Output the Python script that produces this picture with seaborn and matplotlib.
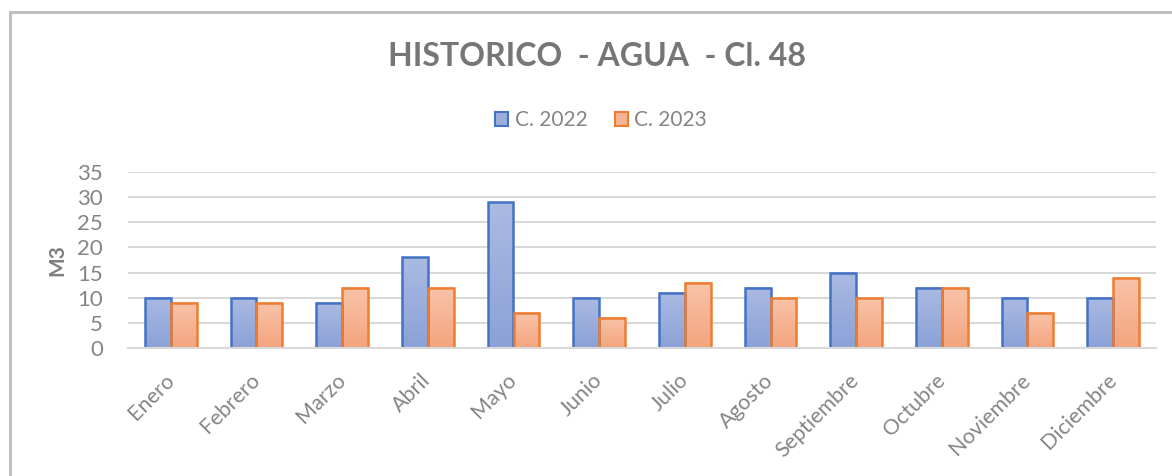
import numpy as np
import pandas as pd
import matplotlib
matplotlib.use("Agg")
import matplotlib.pyplot as plt
import seaborn as sns
from matplotlib.colors import LinearSegmentedColormap
from matplotlib.patches import Rectangle, Patch

months = ["Enero", "Febrero", "Marzo", "Abril", "Mayo", "Junio", "Julio",
          "Agosto", "Septiembre", "Octubre", "Noviembre", "Diciembre"]
series_names = ["C. 2022", "C. 2023"]
values_2022 = [10, 10, 9, 18, 29, 10, 11, 12, 15, 12, 10, 10]
values_2023 = [9, 9, 12, 12, 7, 6, 13, 10, 10, 12, 7, 14]
y_ticks = [0, 5, 10, 15, 20, 25, 30, 35]
title = "HISTORICO  - AGUA  - Cl. 48"
y_label = "M3"

df = pd.DataFrame({
    "Mes": months * 2,
    "M3": values_2022 + values_2023,
    "Serie": [series_names[0]] * 12 + [series_names[1]] * 12,
})

sns.set_style("white")
plt.rcParams["font.family"] = ["Lato", "DejaVu Sans"]

edge_colors = {"C. 2022": "#4472c4", "C. 2023": "#ed7d31"}
grad_colors = {"C. 2022": ("#8ba1d7", "#aabae2"),   # bottom, top
               "C. 2023": ("#f4a47e", "#f8c4a9")}
mid_colors = {"C. 2022": "#9aaedc", "C. 2023": "#f6b493"}

W, H = 1172, 476
fig = plt.figure(figsize=(W / 100, H / 100), dpi=100)
ax = fig.add_axes([128 / W, 1 - 348 / H, (1156 - 128) / W, (348 - 172) / H])

sns.barplot(data=df, x="Mes", y="M3", hue="Serie", order=months,
            hue_order=series_names, palette=mid_colors, width=0.6,
            gap=0, ax=ax, legend=False, errorbar=None)

grad = np.linspace(0, 1, 256).reshape(-1, 1)
for container, name in zip(ax.containers, series_names):
    cmap = LinearSegmentedColormap.from_list(name, list(grad_colors[name]))
    for bar in container:
        x0, y0 = bar.get_x(), bar.get_y()
        w, h = bar.get_width(), bar.get_height()
        ax.imshow(grad, extent=[x0, x0 + w, y0, y0 + h], origin="lower",
                  cmap=cmap, aspect="auto", zorder=1.5, interpolation="bilinear")
        bar.set_facecolor("none")
        bar.set_edgecolor(edge_colors[name])
        bar.set_linewidth(1.8)
        bar.set_zorder(2)

ax.set_xlim(-0.5, len(months) - 0.5)
ax.set_ylim(0, 35)
ax.set_yticks(y_ticks)
ax.set_axisbelow(True)
ax.grid(axis="y", color="#d9d9d9", linewidth=1.5)
ax.grid(axis="x", visible=False)
for s in ["top", "right", "left"]:
    ax.spines[s].set_visible(False)
ax.spines["bottom"].set_color("#d9d9d9")
ax.spines["bottom"].set_linewidth(1.5)
ax.spines["bottom"].set_zorder(3)

ax.set_xticks(np.arange(-0.5, len(months), 1), minor=True)
ax.tick_params(axis="x", which="minor", length=6, width=1.5, color="#d9d9d9")
ax.tick_params(axis="x", which="major", length=0, pad=21, labelsize=15.5,
               labelcolor="#858585")
ax.tick_params(axis="y", length=0, pad=18, labelsize=16, labelcolor="#858585")
for lbl in ax.get_xticklabels():
    lbl.set_rotation(45)
    lbl.set_ha("right")
    lbl.set_va("center")
    lbl.set_rotation_mode("anchor")

ax.set_xlabel("")
ax.set_ylabel(y_label, fontsize=15, fontweight="bold", color="#7f7f7f", labelpad=7)
ax.set_facecolor("none")

fig.text(597 / W, 1 - 56 / H, title, ha="center", va="center", fontsize=23,
         fontweight="bold", color="#767676")

handles = [Patch(facecolor=mid_colors[n], edgecolor=edge_colors[n], linewidth=1.5,
                 label=n) for n in series_names]
fig.legend(handles=handles, loc="center", bbox_to_anchor=(601 / W, 1 - 120 / H),
           ncol=2, frameon=False, fontsize=15, labelcolor="#858585",
           handlelength=0.65, handleheight=0.65, handletextpad=0.3, columnspacing=1.3)

fig.patches.append(Rectangle((10 / W, -0.1), 1.2, (1 - 11.5 / H) + 0.1,
                             transform=fig.transFigure, fill=False,
                             edgecolor="#c0c0c0", linewidth=2.2, zorder=0))

fig.savefig("out.png", dpi=100)
